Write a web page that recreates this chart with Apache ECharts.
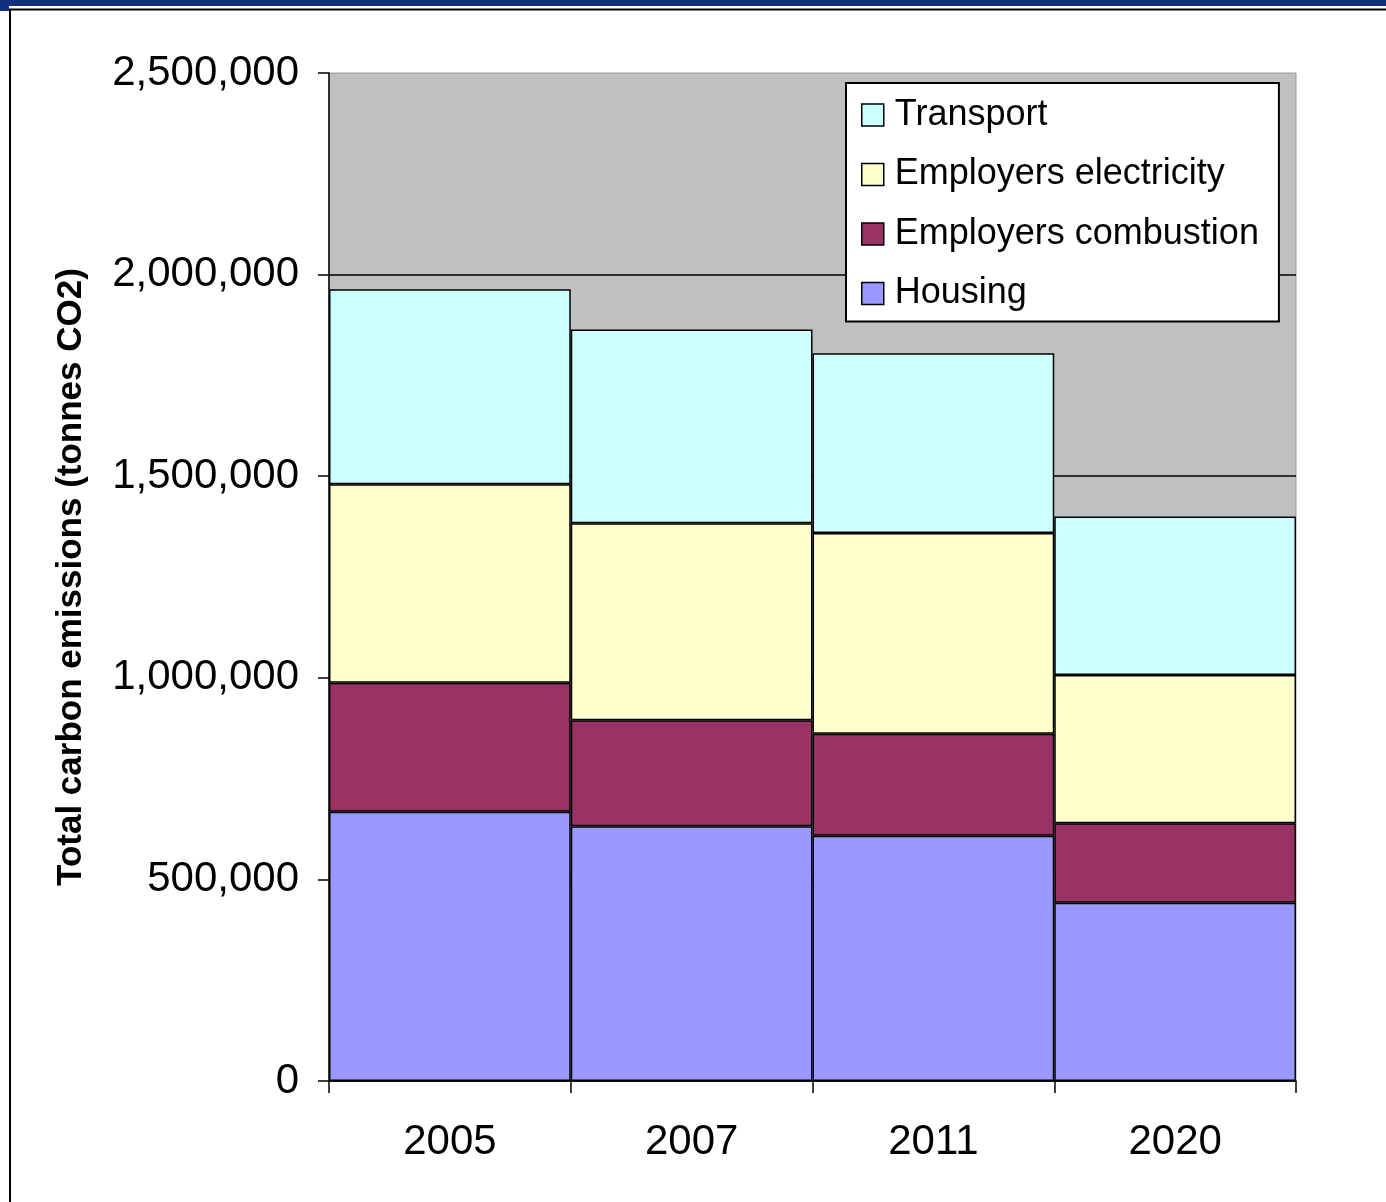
<!DOCTYPE html>
<html>
<head>
<meta charset="utf-8">
<script src="https://cdn.jsdelivr.net/npm/echarts@6/dist/echarts.min.js"></script>
<style>
html,body{margin:0;padding:0;background:#fff;}
#chart{width:1386px;height:1202px;}
</style>
</head>
<body>
<div id="chart"></div>
<script>
const years = ['2005', '2007', '2011', '2020'];
const housing = [668000, 632000, 608000, 442000];
const employersCombustion = [320000, 263000, 253000, 197000];
const employersElectricity = [492000, 488000, 498000, 368000];
const transport = [483500, 481000, 446000, 393000];
const legendOrder = ['Transport', 'Employers electricity', 'Employers combustion', 'Housing'];
const yAxisTitle = 'Total carbon emissions (tonnes CO2)';

const FONT = '"Liberation Sans", Arial, sans-serif';
const chart = echarts.init(document.getElementById('chart'), null, {renderer: 'canvas'});

function barSeries(name, data, color) {
  return {
    name: name,
    type: 'bar',
    stack: 'total',
    data: data,
    barCategoryGap: '0%',
    itemStyle: {color: color, borderColor: '#000', borderWidth: 1.5},
    emphasis: {disabled: true},
    animation: false
  };
}

chart.setOption({
  animation: false,
  backgroundColor: '#fff',
  grid: {
    left: 329, right: 90, top: 73, bottom: 121,
    show: true, backgroundColor: '#c0c0c0', borderColor: '#9a9a9a', borderWidth: 1,
    containLabel: false
  },
  legend: {
    data: legendOrder,
    orient: 'vertical',
    left: 846, top: 83,
    backgroundColor: '#fff',
    borderColor: '#000', borderWidth: 2,
    padding: [14, 20, 10, 15],
    itemWidth: 22, itemHeight: 22,
    itemGap: 23.5,
    itemStyle: {borderColor: '#000', borderWidth: 1.5},
    textStyle: {fontFamily: FONT, fontSize: 36, color: '#000', lineHeight: 36, padding: [0, 0, 0, 6]},
    selectedMode: false,
    icon: 'rect'
  },
  xAxis: {
    type: 'category',
    data: years,
    boundaryGap: true,
    axisLine: {lineStyle: {color: '#000', width: 1.5}},
    axisTick: {show: true, length: 12, alignWithLabel: false, lineStyle: {color: '#000', width: 1.5}},
    axisLabel: {fontFamily: FONT, fontSize: 42, color: '#000', margin: 40},
    splitLine: {show: false}
  },
  yAxis: {
    type: 'value',
    min: 0, max: 2500000, interval: 500000,
    name: yAxisTitle,
    nameLocation: 'middle',
    nameGap: 240,
    nameRotate: 90,
    nameTextStyle: {fontFamily: FONT, fontSize: 35, fontWeight: 'bold', color: '#000'},
    axisLine: {show: true, lineStyle: {color: '#000', width: 1.5}},
    axisTick: {show: true, length: 11, inside: false, lineStyle: {color: '#000', width: 1.5}},
    axisLabel: {
      fontFamily: FONT, fontSize: 42, color: '#000', margin: 30, padding: [6, 0, 0, 0],
      formatter: function (v) { return v.toLocaleString('en-US'); }
    },
    splitLine: {show: true, showMaxLine: false, lineStyle: {color: '#000', width: 1.5}}
  },
  series: [
    barSeries('Housing', housing, '#9999ff'),
    barSeries('Employers combustion', employersCombustion, '#993366'),
    barSeries('Employers electricity', employersElectricity, '#ffffcc'),
    barSeries('Transport', transport, '#ccffff')
  ],
  graphic: [
    {type: 'rect', shape: {x: 0, y: 0, width: 1386, height: 6}, style: {fill: '#12317a'}, silent: true},
    {type: 'rect', shape: {x: 0, y: 0, width: 9, height: 11}, style: {fill: '#12317a'}, silent: true},
    {type: 'line', shape: {x1: 9, y1: 9.5, x2: 1386, y2: 9.5}, style: {stroke: '#000', lineWidth: 2}, silent: true},
    {type: 'line', shape: {x1: 10, y1: 9, x2: 10, y2: 1202}, style: {stroke: '#000', lineWidth: 2}, silent: true}
  ]
});
</script>
</body>
</html>
